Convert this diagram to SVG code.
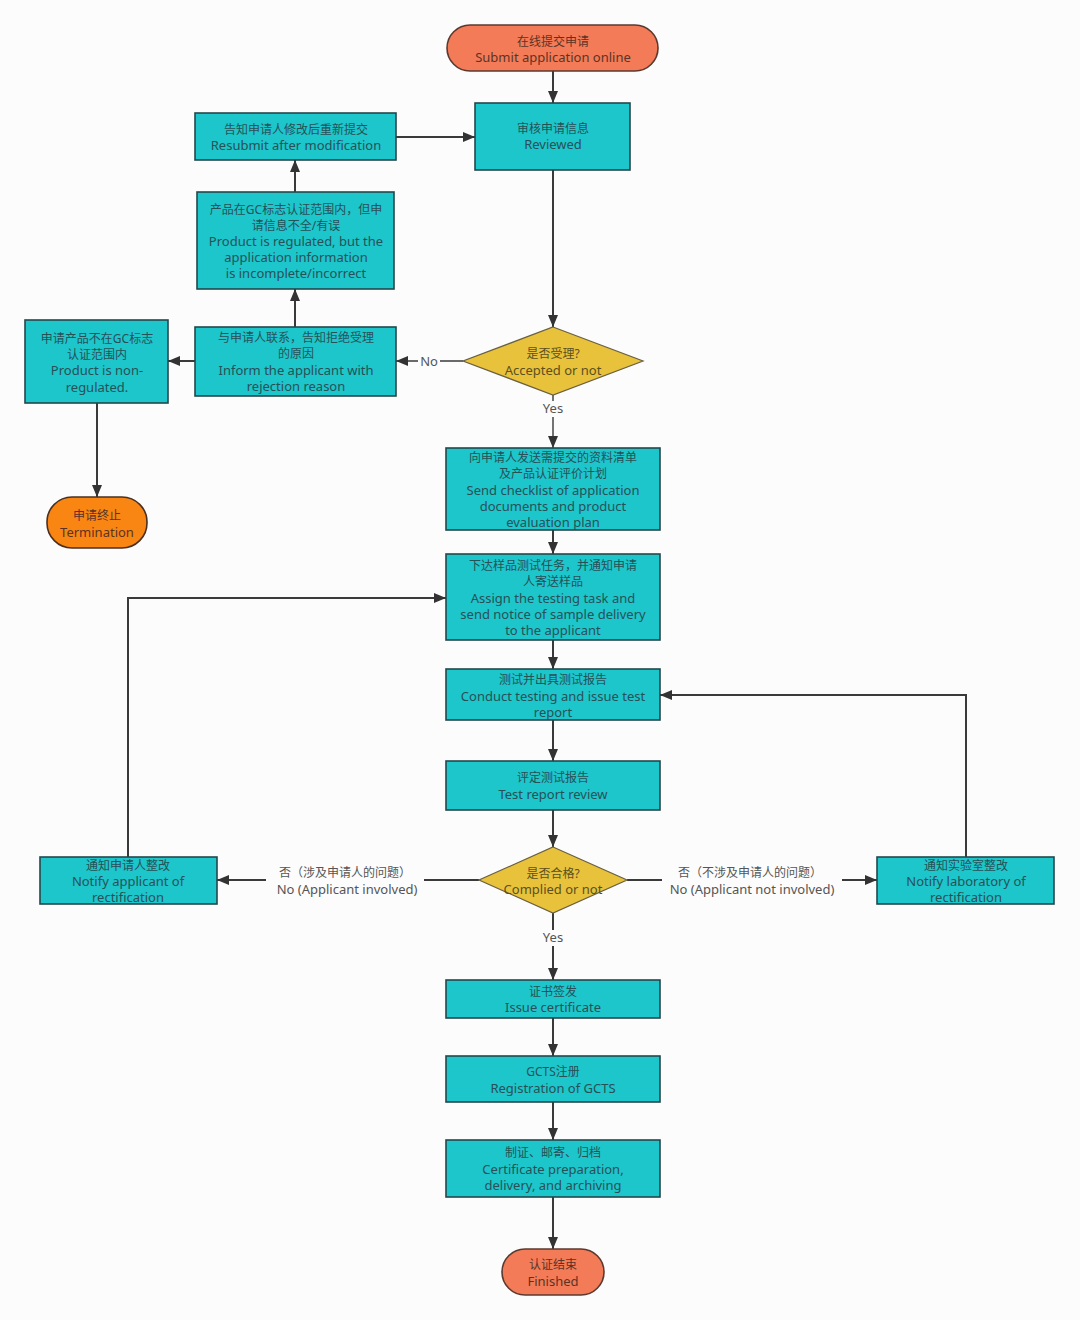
<svg xmlns="http://www.w3.org/2000/svg" width="1080" height="1320" viewBox="0 0 1080 1320">
<defs>
<marker id="arr" viewBox="0 0 12 10" refX="12" refY="5" markerWidth="12" markerHeight="10" markerUnits="userSpaceOnUse" orient="auto">
<path d="M0,0 L12,5 L0,10 Z" fill="#333"/>
</marker>
<style>
.box{fill:#1cc6cb;stroke:#24474c;stroke-width:1.6}
.term{fill:#f47b57;stroke:#5a3a30;stroke-width:1.6}
.term2{fill:#f98512;stroke:#4a3020;stroke-width:1.6}
.dia{fill:#e9c23b;stroke:#6a6040;stroke-width:1.2}
text{font-family:"Noto Sans","Noto Sans CJK SC",sans-serif;font-size:13px;text-anchor:middle;fill:#285057}
.zh{font-size:12px}
.tt{fill:#5a3426}
.dt{fill:#5a5020}
.lbl{fill:#555}
.c{fill:none;stroke:#3a3a3a;stroke-width:2}
.bg{fill:#fcfcfc}
</style>
</defs>
<rect width="1080" height="1320" fill="#fcfcfc"/>

<g id="connectors">
<path class="c" d="M553,71 V103" marker-end="url(#arr)"/>
<path class="c" d="M396,137 H475" marker-end="url(#arr)"/>
<path class="c" d="M295,192 V160" marker-end="url(#arr)"/>
<path class="c" d="M295,327 V289" marker-end="url(#arr)"/>
<path class="c" d="M195,361 H168" marker-end="url(#arr)"/>
<path class="c" d="M97,403 V497" marker-end="url(#arr)"/>
<path class="c" d="M553,170 V327" marker-end="url(#arr)"/>
<path class="c" d="M463,361 H396" marker-end="url(#arr)" style="stroke-width:1.4"/>
<path class="c" d="M553,395 V448" marker-end="url(#arr)" style="stroke-width:1.4"/>
<path class="c" d="M553,530 V554" marker-end="url(#arr)"/>
<path class="c" d="M553,640 V669" marker-end="url(#arr)"/>
<path class="c" d="M553,720 V761" marker-end="url(#arr)"/>
<path class="c" d="M553,810 V847" marker-end="url(#arr)"/>
<path class="c" d="M479,880 H217" marker-end="url(#arr)"/>
<path class="c" d="M627,880 H877" marker-end="url(#arr)"/>
<path class="c" d="M128,857 V598 H446" marker-end="url(#arr)"/>
<path class="c" d="M966,857 V695 H660" marker-end="url(#arr)"/>
<path class="c" d="M553,913 V980" marker-end="url(#arr)"/>
<path class="c" d="M553,1018 V1056" marker-end="url(#arr)"/>
<path class="c" d="M553,1102 V1140" marker-end="url(#arr)"/>
<path class="c" d="M553,1197 V1249" marker-end="url(#arr)"/>
<rect class="bg" x="418" y="354" width="22" height="15"/>
<text class="lbl" x="429" y="366">No</text>
<rect class="bg" x="540" y="401" width="26" height="16"/>
<text class="lbl" x="553" y="413">Yes</text>
<rect class="bg" x="266" y="864" width="158" height="34"/>
<text class="lbl zh" x="345" y="877">否（涉及申请人的问题）</text>
<text class="lbl" x="347" y="894">No (Applicant involved)</text>
<rect class="bg" x="662" y="864" width="180" height="34"/>
<text class="lbl zh" x="750" y="877">否（不涉及申请人的问题）</text>
<text class="lbl" x="752" y="894">No (Applicant not involved)</text>
<rect class="bg" x="540" y="930" width="26" height="16"/>
<text class="lbl" x="553" y="942">Yes</text>
</g>

<g id="submit">
<rect class="term" x="447" y="25" width="211" height="46" rx="23"/>
<text class="tt zh" x="553" y="46">在线提交申请</text>
<text class="tt" x="553" y="62">Submit application online</text>
</g>
<g id="reviewed">
<rect class="box" x="475" y="103" width="155" height="67"/>
<text class="zh" x="553" y="133">审核申请信息</text>
<text x="553" y="149">Reviewed</text>
</g>
<g id="resubmit">
<rect class="box" x="195" y="113" width="201" height="47"/>
<text class="zh" x="296" y="134">告知申请人修改后重新提交</text>
<text x="296" y="150">Resubmit after modification</text>
</g>
<g id="regulated">
<rect class="box" x="197" y="192" width="197" height="97"/>
<text class="zh" x="296" y="214">产品在GC标志认证范围内，但申</text>
<text class="zh" x="296" y="230">请信息不全/有误</text>
<text x="296" y="246">Product is regulated, but the</text>
<text x="296" y="262">application information</text>
<text x="296" y="278">is incomplete/incorrect</text>
</g>
<g id="inform">
<rect class="box" x="195" y="327" width="201" height="69"/>
<text class="zh" x="296" y="342">与申请人联系，告知拒绝受理</text>
<text class="zh" x="296" y="358">的原因</text>
<text x="296" y="375">Inform the applicant with</text>
<text x="296" y="391">rejection reason</text>
</g>
<g id="nonregulated">
<rect class="box" x="25" y="320" width="143" height="83"/>
<text class="zh" x="97" y="343">申请产品不在GC标志</text>
<text class="zh" x="97" y="359">认证范围内</text>
<text x="97" y="375">Product is non-</text>
<text x="97" y="392">regulated.</text>
</g>
<g id="termination">
<rect class="term2" x="47" y="497" width="100" height="51" rx="25"/>
<text class="tt zh" x="97" y="520">申请终止</text>
<text class="tt" x="97" y="537">Termination</text>
</g>
<g id="accepted">
<polygon class="dia" points="553,327 643,361 553,395 463,361"/>
<text class="dt zh" x="553" y="358">是否受理?</text>
<text class="dt" x="553" y="375">Accepted or not</text>
</g>
<g id="checklist">
<rect class="box" x="446" y="448" width="214" height="82"/>
<text class="zh" x="553" y="462">向申请人发送需提交的资料清单</text>
<text class="zh" x="553" y="478">及产品认证评价计划</text>
<text x="553" y="495">Send checklist of application</text>
<text x="553" y="511">documents and product</text>
<text x="553" y="527">evaluation plan</text>
</g>
<g id="assign">
<rect class="box" x="446" y="554" width="214" height="86"/>
<text class="zh" x="553" y="570">下达样品测试任务，并通知申请</text>
<text class="zh" x="553" y="586">人寄送样品</text>
<text x="553" y="603">Assign the testing task and</text>
<text x="553" y="619">send notice of sample delivery</text>
<text x="553" y="635">to the applicant</text>
</g>
<g id="testing">
<rect class="box" x="446" y="669" width="214" height="51"/>
<text class="zh" x="553" y="684">测试并出具测试报告</text>
<text x="553" y="701">Conduct testing and issue test</text>
<text x="553" y="717">report</text>
</g>
<g id="review">
<rect class="box" x="446" y="761" width="214" height="49"/>
<text class="zh" x="553" y="782">评定测试报告</text>
<text x="553" y="799">Test report review</text>
</g>
<g id="complied">
<polygon class="dia" points="553,847 627,880 553,913 479,880"/>
<text class="dt zh" x="553" y="878">是否合格?</text>
<text class="dt" x="553" y="894">Complied or not</text>
</g>
<g id="notifyapplicant">
<rect class="box" x="40" y="857" width="177" height="47"/>
<text class="zh" x="128" y="870">通知申请人整改</text>
<text x="128" y="886">Notify applicant of</text>
<text x="128" y="902">rectification</text>
</g>
<g id="notifylab">
<rect class="box" x="877" y="857" width="177" height="47"/>
<text class="zh" x="966" y="870">通知实验室整改</text>
<text x="966" y="886">Notify laboratory of</text>
<text x="966" y="902">rectification</text>
</g>
<g id="issue">
<rect class="box" x="446" y="980" width="214" height="38"/>
<text class="zh" x="553" y="996">证书签发</text>
<text x="553" y="1012">Issue certificate</text>
</g>
<g id="gcts">
<rect class="box" x="446" y="1056" width="214" height="46"/>
<text class="zh" x="553" y="1076">GCTS注册</text>
<text x="553" y="1093">Registration of GCTS</text>
</g>
<g id="prep">
<rect class="box" x="446" y="1140" width="214" height="57"/>
<text class="zh" x="553" y="1157">制证、邮寄、归档</text>
<text x="553" y="1174">Certificate preparation,</text>
<text x="553" y="1190">delivery, and archiving</text>
</g>
<g id="finished">
<rect class="term" x="502" y="1249" width="102" height="46" rx="23"/>
<text class="tt zh" x="553" y="1269">认证结束</text>
<text class="tt" x="553" y="1286">Finished</text>
</g>
</svg>
